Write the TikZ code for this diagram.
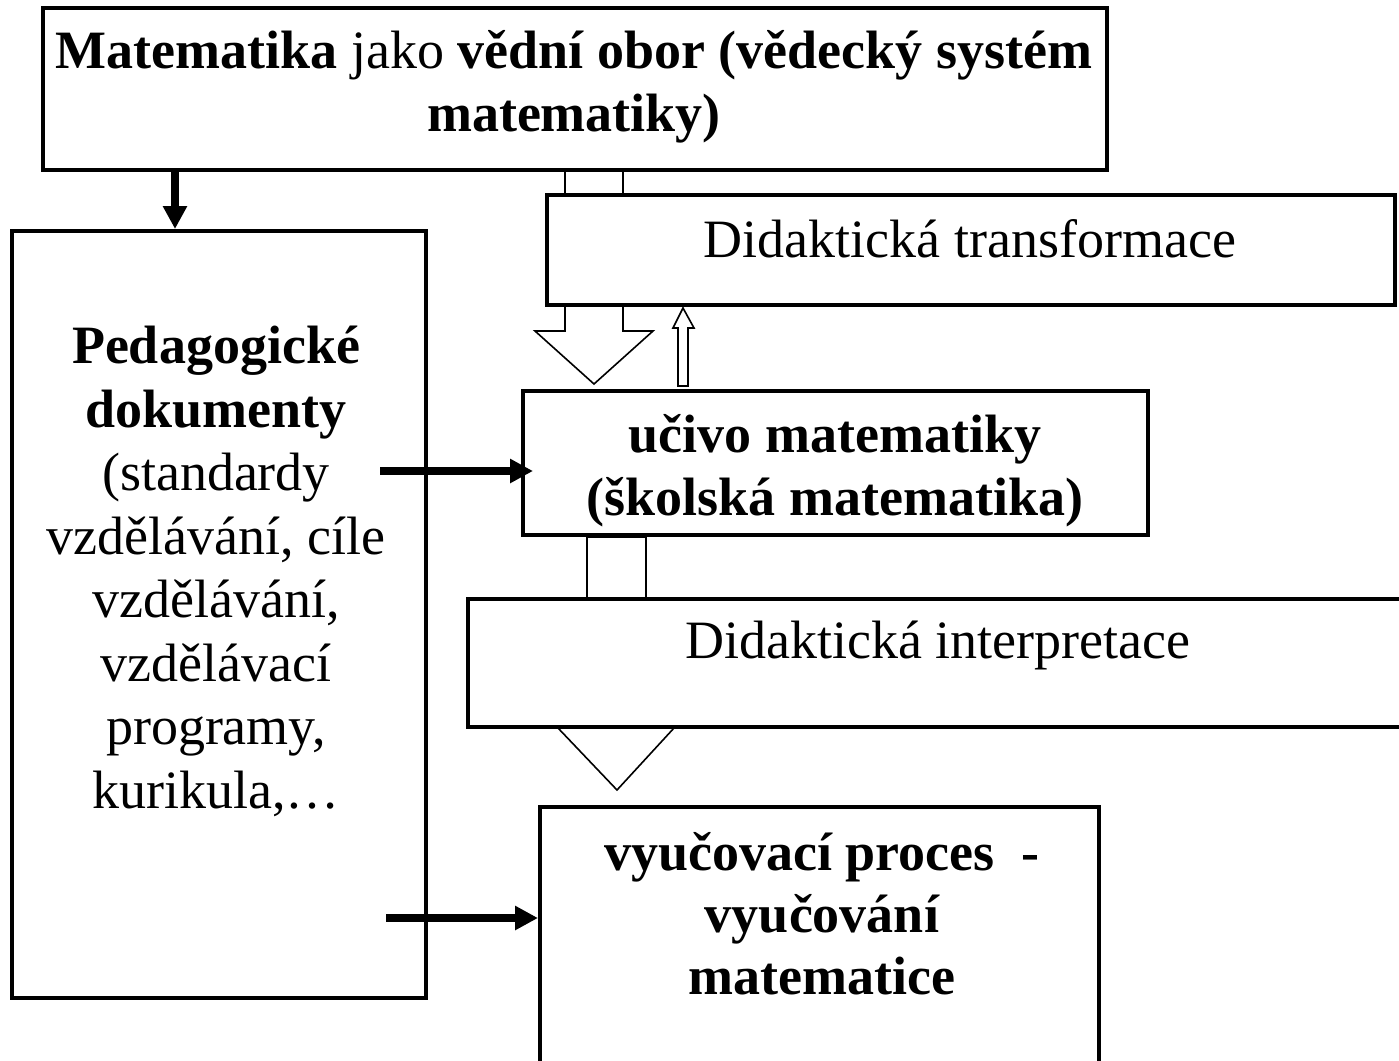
\documentclass[tikz,border=0pt]{standalone}
\usepackage{fontspec}
\setmainfont{Liberation Serif}
\usetikzlibrary{arrows.meta,backgrounds}

\tikzset{
  box/.style={draw=black,line width=2pt,fill=white,rectangle,inner sep=0pt},
  boxtext/.style={font=\fontsize{27}{31.5}\selectfont,align=center,anchor=base,inner sep=0pt},
  flowline/.style={line width=4pt,-{Triangle[length=11.5pt,width=11.5pt]}},
  hollowarrow/.style={draw=black,line width=0.8pt,fill=white,line join=miter},
}

\begin{document}
\begin{tikzpicture}[x=0.5pt,y=-0.5pt]
\clip (0,0) rectangle (1399,1061);

\node[box,minimum width=532pt,minimum height=81pt] (math) at (575,89) {};
\node[box,minimum width=207pt,minimum height=383.5pt] (ped) at (219,614.5) {};
\node[box,minimum width=424pt,minimum height=55pt] (trans) at (971,250) {};
\node[box,minimum width=312.5pt,minimum height=72pt] (uciv) at (835.5,463) {};
\node[box,minimum width=476pt,minimum height=64pt] (interp) at (944,663) {};
\node[box,minimum width=279.5pt,minimum height=141.5pt] (proc) at (819.5,948.5) {};

\node[boxtext] (math-t) at (574,131) {\textbf{Matematika} jako \textbf{vědní obor (vědecký systém}\\\textbf{matematiky)}};
\node[boxtext,font=\fontsize{27}{31.75}\selectfont] (ped-t) at (216,808) {\textbf{Pedagogické}\\\textbf{dokumenty}\\(standardy\\vzdělávání, cíle\\vzdělávání,\\vzdělávací\\programy,\\kurikula,…};
\node[boxtext] (trans-t) at (970,257) {Didaktická transformace};
\node[boxtext] (uciv-t) at (835,515) {\textbf{učivo matematiky}\\\textbf{(školská matematika)}};
\node[boxtext] (interp-t) at (938,658) {Didaktická interpretace};
\node[boxtext,font=\fontsize{27}{31}\selectfont\bfseries] (proc-t) at (822,994) {vyučovací proces~~-\\vyučování\\matematice};

\begin{scope}[on background layer]
\draw[hollowarrow] (565,170) -- (565,331) -- (535,331) -- (594,384) -- (653,331) -- (623,331) -- (623,170) -- cycle;
\draw[hollowarrow] (678,386) -- (678,328) -- (673,328) -- (683,308) -- (694,328) -- (688,328) -- (688,386) -- cycle;
\draw[hollowarrow] (587,537) -- (587,728) -- (558,728) -- (617,790) -- (674,728) -- (646,728) -- (646,537) -- cycle;
\end{scope}

\coordinate (p1) at (175,0);
\coordinate (p2) at (380,471);
\coordinate (p3) at (386,918);
\draw[flowline] (math.south -| p1) -- (ped.north -| p1);
\draw[flowline] (p2) -- ([xshift=6pt]uciv.west |- p2);
\draw[flowline] (p3) -- (proc.west |- p3);

\end{tikzpicture}
\end{document}
